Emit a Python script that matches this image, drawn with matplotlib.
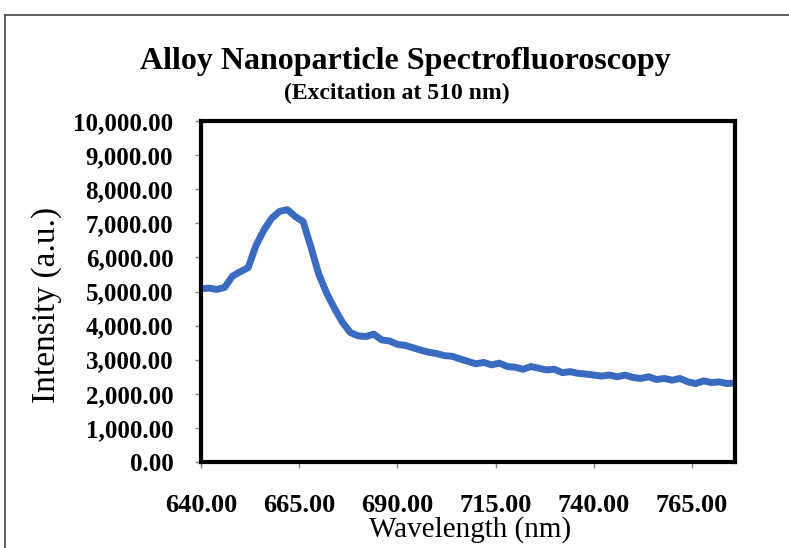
import matplotlib
matplotlib.use("Agg")
import matplotlib.pyplot as plt
from matplotlib.ticker import FuncFormatter, MultipleLocator
from matplotlib.lines import Line2D

wavelength = [640, 642, 644, 646, 648, 650, 652, 654, 656, 658, 660, 662, 664, 666, 668,
              670, 672, 674, 676, 678, 680, 682, 684, 686, 688, 690, 692, 694, 696, 698,
              700, 702, 704, 706, 708, 710, 712, 714, 716, 718, 720, 722, 724, 726, 728,
              730, 732, 734, 736, 738, 740, 742, 744, 746, 748, 750, 752, 754, 756, 758,
              760, 762, 764, 766, 768, 770, 772, 774, 776]
intensity = [5080, 5100, 5060, 5120, 5450, 5580, 5700, 6350, 6800, 7150, 7350, 7400, 7200, 7050, 6300,
             5500, 4950, 4500, 4100, 3800, 3700, 3680, 3750, 3580, 3550, 3450, 3420, 3350, 3280, 3220,
             3180, 3120, 3100, 3020, 2950, 2880, 2920, 2850, 2900, 2800, 2780, 2720, 2800, 2750, 2700,
             2720, 2620, 2650, 2600, 2580, 2550, 2520, 2550, 2500, 2550, 2480, 2450, 2500, 2420, 2450,
             2400, 2450, 2350, 2300, 2380, 2330, 2350, 2300, 2320]
x_ticks = [640, 665, 690, 715, 740, 765]

title = "Alloy Nanoparticle Spectrofluoroscopy"
subtitle = "(Excitation at 510 nm)"
xlabel = "Wavelength (nm)"
ylabel = "Intensity (a.u.)"

serif = ["Liberation Serif", "DejaVu Serif"]

fig = plt.figure(figsize=(7.89, 5.48), dpi=100)
ax = fig.add_axes([0.2548, 0.1569, 0.6768, 0.6223])

ax.plot(wavelength, intensity, color="#3B6BC0", lw=5, solid_joinstyle="round",
        solid_capstyle="round")

ax.set_xlim(640, 776)
ax.set_ylim(0, 10000)
ax.set_xticks(x_ticks)
ax.yaxis.set_major_locator(MultipleLocator(1000))
ax.xaxis.set_major_formatter(FuncFormatter(lambda v, p: f"{v:.2f}"))
ax.yaxis.set_major_formatter(FuncFormatter(lambda v, p: f"{v:,.2f}"))

for s in ax.spines.values():
    s.set_linewidth(3)
    s.set_color("black")

ax.tick_params(axis="x", direction="out", length=4, width=1, color="#888888", pad=19)
ax.tick_params(axis="y", direction="out", length=4, width=1, color="#888888", pad=16)
for lab in ax.get_xticklabels():
    lab.set_family(serif)
    lab.set_fontweight("bold")
    lab.set_fontsize(19)
for lab in ax.get_yticklabels():
    lab.set_family(serif)
    lab.set_fontweight("bold")
    lab.set_fontsize(18)

ax.set_xlabel(xlabel, family=serif, fontsize=21, va="center")
ax.xaxis.set_label_coords((470 - 201) / 534, (462 - 530) / 341)
ax.set_ylabel(ylabel, family=serif, fontsize=24, va="center")
ax.yaxis.set_label_coords((47 - 201) / 534, (462 - 305) / 341)

fig.text(405 / 789, 1 - 62 / 548, title, family=serif, fontweight="bold", fontsize=23,
         ha="center", va="center")
fig.text(397 / 789, 1 - 93 / 548, subtitle, family=serif, fontweight="bold", fontsize=17,
         ha="center", va="center")

fig.add_artist(Line2D([5 / 789, 1.0], [1 - 15 / 548, 1 - 15 / 548], transform=fig.transFigure,
                      color="#444444", lw=1.2))
fig.add_artist(Line2D([5 / 789, 5 / 789], [0.0, 1 - 15 / 548], transform=fig.transFigure,
                      color="#444444", lw=1.2))

fig.savefig("out.png", dpi=100)
